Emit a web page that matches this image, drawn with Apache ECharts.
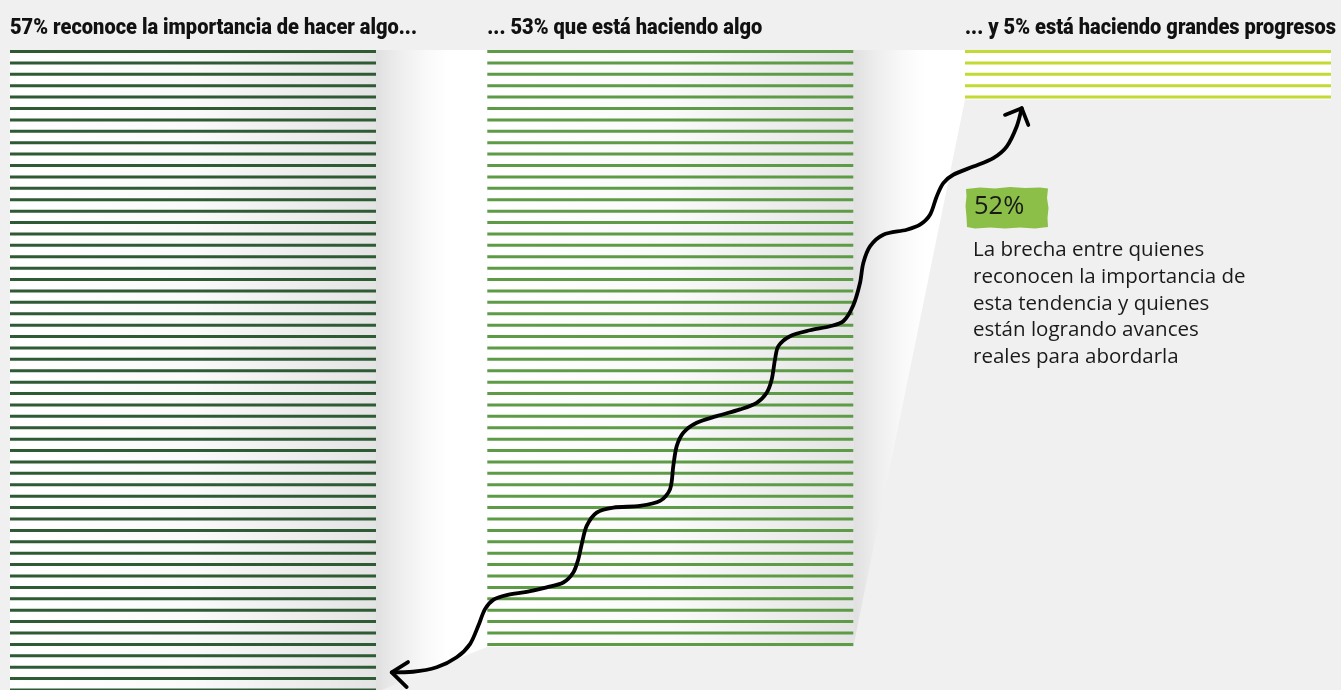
<!DOCTYPE html>
<html>
<head>
<meta charset="utf-8">
<script src="https://cdn.jsdelivr.net/npm/echarts@6/dist/echarts.min.js"></script>
<style>
  html, body { margin: 0; padding: 0; background: #f0f0f0; }
  #chart { width: 1341px; height: 690px; }
</style>
</head>
<body>
<div id="chart"></div>
<script>
// one horizontal rule per percentage point
const headings = [
  '57% reconoce la importancia de hacer algo...',
  '... 53% que está haciendo algo',
  '... y 5% está haciendo grandes progresos'
];
const shares = [57, 53, 5];
const gapValue = '52%';
const gapNote = [
  'La brecha entre quienes',
  'reconocen la importancia de',
  'esta tendencia y quienes',
  'están logrando avances',
  'reales para abordarla'
];
// hand drawn arrow: x along the page, y in rule rows
const arrowPath = [
  [391.7, 54.45], [413, 54.40], [436.7, 54.01], [456.7, 53.13], [470, 51.97],
  [478.3, 50.37], [485, 48.91], [493.3, 48.09], [506.7, 47.68], [526.7, 47.39],
  [546.7, 47.00], [563.3, 46.57], [573.3, 45.69], [578.3, 44.53], [581.7, 43.21],
  [586.7, 41.61], [596.7, 40.44], [613.3, 40.00], [640, 39.86], [660, 39.42],
  [670, 38.40], [673.3, 36.36], [676.7, 34.61], [683.3, 33.43], [696.7, 32.56],
  [716.7, 31.98], [740, 31.39], [756.7, 30.81], [766.7, 29.93], [771.7, 28.77],
  [775, 27.01], [778.3, 25.85], [790, 24.97], [810, 24.45], [830, 24.10],
  [843.3, 23.66], [853.3, 22.25], [860, 20.30], [863.3, 18.55], [870, 17.09],
  [883.3, 16.07], [906.7, 15.63], [920, 15.19], [930, 14.32], [936.7, 12.71],
  [943.3, 11.54], [953.3, 10.81], [973.3, 10.09], [993.3, 9.35], [1006.7, 8.34],
  [1016.7, 6.58], [1021.7, 4.97]
];
const arrowHeadLow = [[408, 53.55], [391.7, 54.45], [406.7, 55.74]];
const arrowHeadHigh = [[1005, 5.56], [1021.7, 4.97], [1028.3, 6.44]];

// layout
const colLeft = [10, 487.3, 965];
const colWidth = 366;
const headingFit = [407, 275, 371];
const headingFont = '900 22px Roboto, sans-serif';
const lineColors = ['#2e5a34', '#5e9b46', '#c3d934'];
const panelTop = -0.13;

const measure = document.createElement('canvas').getContext('2d');
measure.font = headingFont;

const shade = (stops) => new echarts.graphic.LinearGradient(0, 0, 1, 0,
  stops.map(s => ({ offset: s[0], color: s[1] })));

const panels = [];
shares.forEach((n, k) => {
  const x0 = colLeft[k], x1 = colLeft[k] + colWidth, bot = n - 1 + 0.2;
  panels.push({
    pts: [[x0, panelTop], [x1, panelTop], [x1, bot], [x0, bot]],
    fill: k === 2 ? '#ffffff' : shade([[0, '#ffffff'], [0.5, '#fafafa'], [1, '#e4e4e4']])
  });
  if (k < shares.length - 1) {
    const nx = colLeft[k + 1], nbot = shares[k + 1] - 1 + 0.2;
    panels.push({
      pts: [[x1, panelTop], [nx, panelTop], [nx, nbot], [x1, bot]],
      fill: shade([[0, '#e0e0e0'], [0.2, '#ededed'], [0.45, '#f9f9f9'], [0.65, '#ffffff'], [1, '#ffffff']])
    });
  }
});

const rules = [];
shares.forEach((n, k) => {
  for (let i = 0; i < n; i++) rules.push([k, i]);
});

// brush-stroke highlight behind the gap value
const brush = [
  [966, 189], [980, 187.5], [995, 188.5], [1010, 187], [1025, 188], [1040, 187.5], [1048, 188.5],
  [1047, 198], [1048.5, 208], [1047.5, 218], [1048, 227], [1035, 228.5], [1020, 227.5],
  [1005, 228.5], [990, 227.5], [975, 228.5], [967, 227], [966.5, 217], [965.5, 206], [966.5, 196]
];

const chart = echarts.init(document.getElementById('chart'));
const option = {
  backgroundColor: '#f0f0f0',
  animation: false,
  grid: { left: 0, right: 0, top: 51.5, bottom: -1 },
  xAxis: { type: 'value', min: 0, max: 1341, show: false },
  yAxis: { type: 'value', min: 0, max: 56, inverse: true, show: false },
  series: [
    {
      type: 'custom',
      clip: false,
      silent: true,
      data: panels.map((p, i) => [i, 0]),
      renderItem: (params, api) => {
        const p = panels[params.dataIndex];
        return {
          type: 'polygon',
          shape: { points: p.pts.map(q => api.coord(q)) },
          style: { fill: p.fill }
        };
      }
    },
    {
      type: 'custom',
      clip: false,
      silent: true,
      data: rules,
      renderItem: (params, api) => {
        const k = api.value(0), r = api.value(1);
        const a = api.coord([colLeft[k], r]);
        const b = api.coord([colLeft[k] + colWidth, r]);
        return {
          type: 'line',
          shape: { x1: a[0], y1: a[1], x2: b[0], y2: b[1] },
          style: { stroke: lineColors[k], lineWidth: 3 }
        };
      }
    },
    {
      type: 'line',
      data: arrowPath,
      smooth: 0.3,
      symbol: 'none',
      clip: false,
      lineStyle: { color: '#000', width: 3.8, cap: 'round', join: 'round' },
      z: 5
    },
    {
      type: 'line',
      data: arrowHeadLow,
      symbol: 'none',
      clip: false,
      lineStyle: { color: '#000', width: 3.8, cap: 'round', join: 'round' },
      z: 5
    },
    {
      type: 'line',
      data: arrowHeadHigh,
      symbol: 'none',
      clip: false,
      lineStyle: { color: '#000', width: 3.8, cap: 'round', join: 'round' },
      z: 5
    }
  ],
  graphic: [
    ...headings.map((t, k) => ({
      type: 'text',
      x: colLeft[k],
      y: 28,
      scaleX: headingFit[k] / measure.measureText(t).width,
      style: {
        text: t,
        font: headingFont,
        fill: '#111111',
        verticalAlign: 'middle'
      }
    })),
    {
      type: 'polygon',
      shape: { points: brush },
      style: { fill: '#8bbf47' }
    },
    {
      type: 'text',
      x: 974,
      y: 207,
      style: {
        text: gapValue,
        font: '25.5px "Open Sans", sans-serif',
        fill: '#1a1a1a',
        verticalAlign: 'middle'
      }
    },
    {
      type: 'text',
      x: 973,
      y: 237,
      style: {
        text: gapNote.join('\n'),
        font: '20.5px "Open Sans", sans-serif',
        lineHeight: 26.7,
        fill: '#1a1a1a',
        verticalAlign: 'top'
      }
    }
  ]
};
chart.setOption(option);
</script>
</body>
</html>
